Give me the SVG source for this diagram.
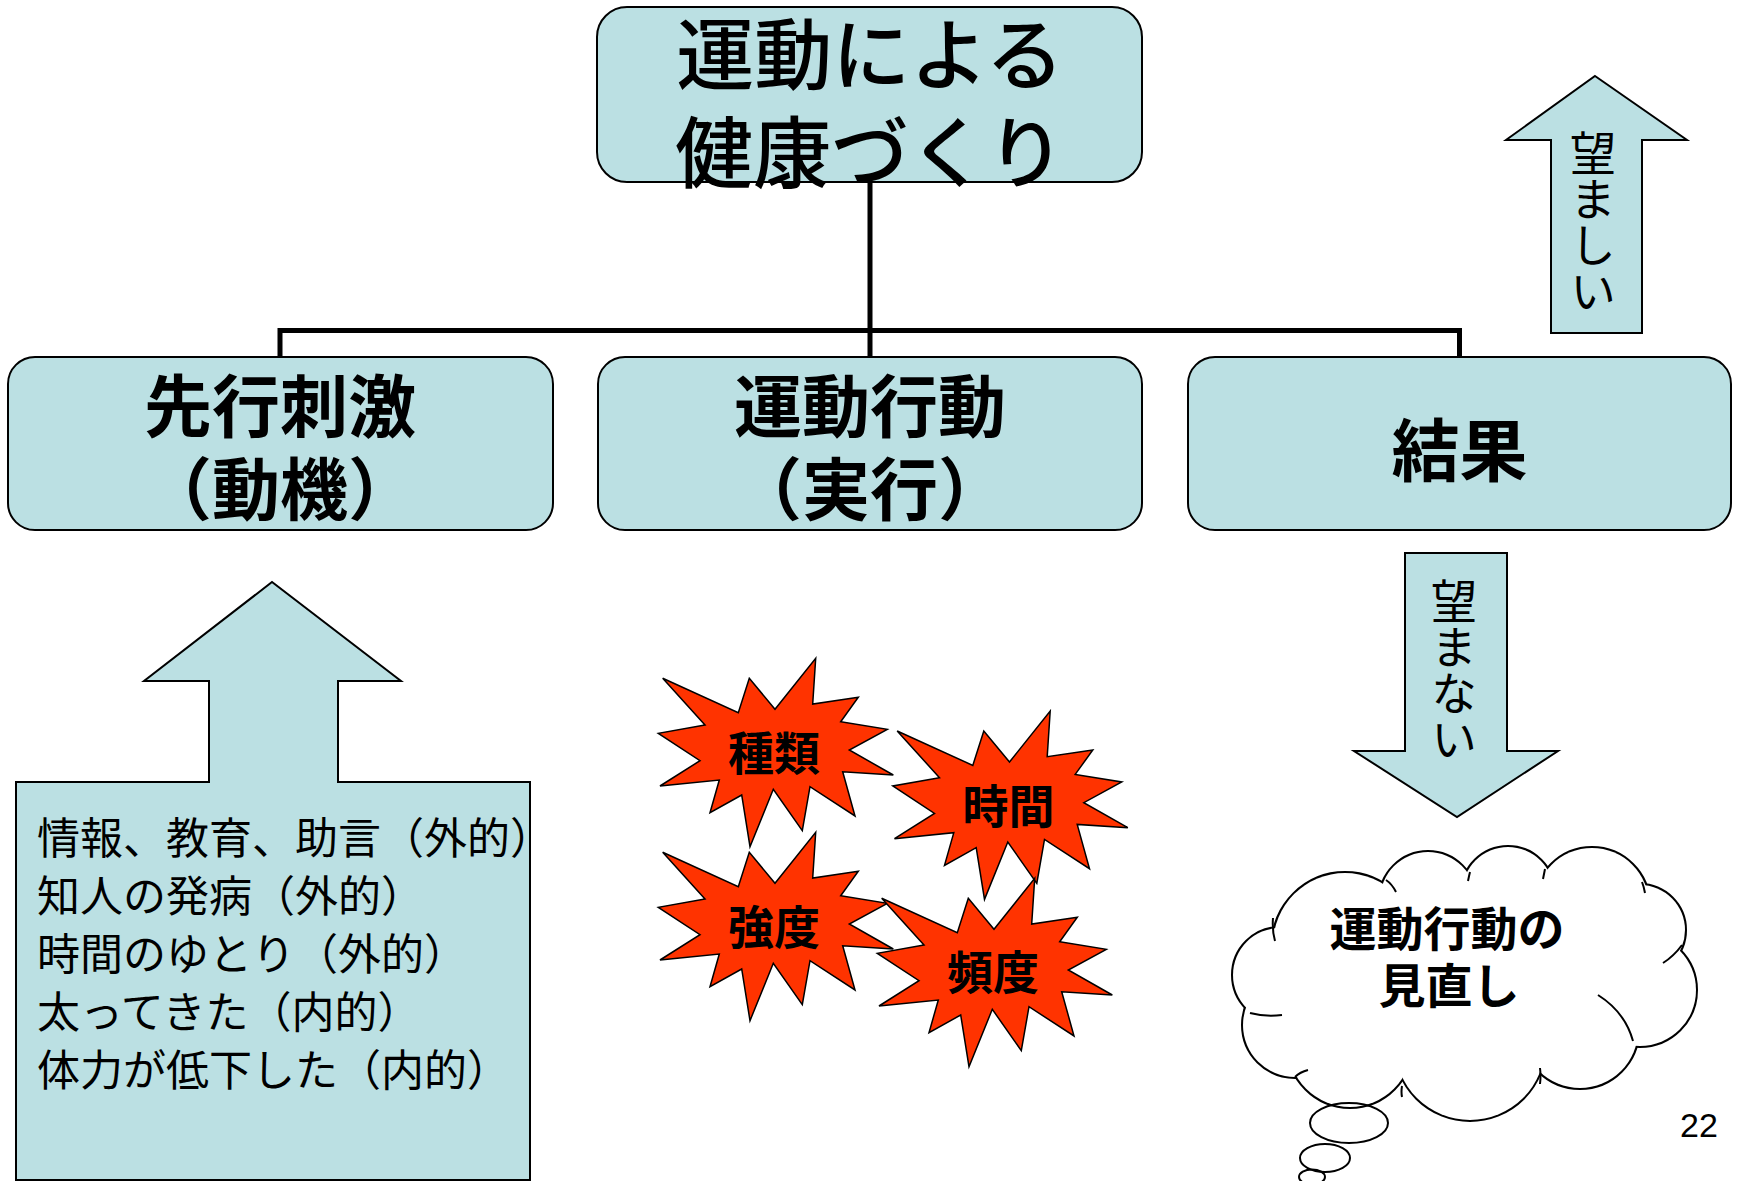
<svg xmlns="http://www.w3.org/2000/svg" xmlns:xlink="http://www.w3.org/1999/xlink" width="1742" height="1181" viewBox="0 0 1742 1181">
<style>
.box{fill:#BBE0E3;stroke:#000;stroke-width:2}
.jp{font-family:"Noto Sans CJK JP","Noto Sans CJK SC",sans-serif;fill:#000}
.big{font-size:78px;font-weight:500}
.bx{font-size:68px;font-weight:bold;text-anchor:middle}
.st{font-size:46px;font-weight:bold;text-anchor:middle}
.lst{font-size:43px}
.vt{font-size:46px;writing-mode:vertical-rl;text-anchor:start}
.burst{fill:#FF3300;stroke:#000;stroke-width:1.5;stroke-linejoin:miter}
.conn{fill:none;stroke:#000;stroke-width:5}
.cl{fill:#fff;stroke:#000;stroke-width:4}
.clf{fill:#fff;stroke:none}
.thin{fill:none;stroke:#000;stroke-width:2}
</style>
<defs>
<path id="star" d="M815.7,658.3 L812.7,704 L858.3,697.3 L840.7,721.7 L887.3,729.3 L849.3,750 L893.3,775 L842.7,771.7 L855,816 L810,786.7 L802.3,830.7 L773.3,789.3 L750,846.7 L741.7,795 L710,812.7 L719.3,780 L660,786 L700,760.7 L658.3,733.3 L705,725 L662.7,678.3 L738.3,712.7 L749.3,678.3 L775,709.3 Z"/>
<g id="cloudShapes">
<circle cx="1345" cy="945" r="72"/>
<circle cx="1428" cy="900" r="48"/>
<circle cx="1508" cy="893" r="46"/>
<circle cx="1592" cy="905" r="57"/>
<circle cx="1640" cy="930" r="45"/>
<circle cx="1640" cy="990" r="56"/>
<circle cx="1580" cy="1030" r="58"/>
<circle cx="1470" cy="1045" r="75"/>
<circle cx="1350" cy="1045" r="62"/>
<circle cx="1295" cy="1025" r="52"/>
<circle cx="1280" cy="975" r="47"/>
<ellipse cx="1460" cy="975" rx="170" ry="90"/>
</g>
</defs>

<g id="connectors">
<path class="conn" d="M870,182 V357 M280,357 V330.5 H1459.5 V357"/>
</g>

<g id="node-top">
<rect class="box" x="597" y="7" width="545" height="175" rx="30"/>
<text class="jp big" x="870" y="84" text-anchor="middle">運動による</text>
<text class="jp big" x="870" y="182" text-anchor="middle">健康づくり</text>
</g>

<g id="node-stimulus">
<rect class="box" x="8" y="357" width="545" height="173" rx="27"/>
<text class="jp bx" x="280" y="432">先行刺激</text>
<text class="jp bx" x="280" y="515">（動機）</text>
</g>

<g id="node-behavior">
<rect class="box" x="598" y="357" width="544" height="173" rx="27"/>
<text class="jp bx" x="870" y="432">運動行動</text>
<text class="jp bx" x="870" y="515">（実行）</text>
</g>

<g id="node-result">
<rect class="box" x="1188" y="357" width="543" height="173" rx="27"/>
<text class="jp bx" x="1459.5" y="476">結果</text>
</g>

<g id="arrow-desirable">
<path class="box" d="M1595,76 L1687,140 L1642,140 L1642,333 L1551,333 L1551,140 L1506,140 Z" stroke-width="1.5"/>
<text class="jp vt" x="1593" y="130">望ましい</text>
</g>

<g id="arrow-undesirable">
<path class="box" d="M1405,553 L1507,553 L1507,751 L1558,751 L1457,817 L1354,751 L1405,751 Z" stroke-width="1.5"/>
<text class="jp vt" x="1454" y="578">望まない</text>
</g>

<g id="node-factors">
<path class="box" d="M16,782 L209,782 L209,681 L144,681 L272,582 L401,681 L338,681 L338,782 L530,782 L530,1180 L16,1180 Z" stroke-width="1.5"/>
<text class="jp lst" x="37" y="854">情報、教育、助言（外的）</text>
<text class="jp lst" x="37" y="912">知人の発病（外的）</text>
<text class="jp lst" x="37" y="970">時間のゆとり（外的）</text>
<text class="jp lst" x="37" y="1028">太ってきた（内的）</text>
<text class="jp lst" x="37" y="1086">体力が低下した（内的）</text>
</g>

<g id="burst-type">
<use xlink:href="#star" href="#star" class="burst"/>
<text class="jp st" x="774" y="770">種類</text>
</g>
<g id="burst-time">
<use xlink:href="#star" href="#star" class="burst" transform="translate(234.5,52.7)"/>
<text class="jp st" x="1008.5" y="823">時間</text>
</g>
<g id="burst-intensity">
<use xlink:href="#star" href="#star" class="burst" transform="translate(0,174)"/>
<text class="jp st" x="774" y="944">強度</text>
</g>
<g id="burst-frequency">
<use xlink:href="#star" href="#star" class="burst" transform="translate(219,220)"/>
<text class="jp st" x="993" y="989">頻度</text>
</g>

<g id="cloud-review">
<use xlink:href="#cloudShapes" href="#cloudShapes" class="cl"/>
<use xlink:href="#cloudShapes" href="#cloudShapes" class="clf"/>
<path class="thin" d="M1273,918 Q1272,930 1275,941 M1386,880 Q1392,884 1396,892 M1470,872 Q1469,876 1468,881 M1545,869 Q1544,874 1543,879 M1642,882 Q1644,887 1645,893 M1682,945 Q1674,956 1663,963 M1598,995 Q1625,1012 1633,1041 M1540,1068 Q1541,1076 1540,1084 M1402,1086 Q1401,1092 1402,1097 M1308,1070 Q1300,1072 1295,1077 M1282,1015 Q1265,1017 1250,1013"/>
<ellipse class="thin" cx="1349" cy="1123" rx="39" ry="20"/>
<ellipse class="thin" cx="1325" cy="1158" rx="25" ry="14"/>
<ellipse class="thin" cx="1312" cy="1177" rx="13" ry="7.5"/>
<text class="jp" x="1447" y="946" font-size="47" font-weight="bold" text-anchor="middle">運動行動の</text>
<text class="jp" x="1449" y="1003" font-size="47" font-weight="bold" text-anchor="middle">見直し</text>
</g>

<text x="1680" y="1137" font-family="Liberation Sans, Arial, sans-serif" font-size="34">22</text>
</svg>
